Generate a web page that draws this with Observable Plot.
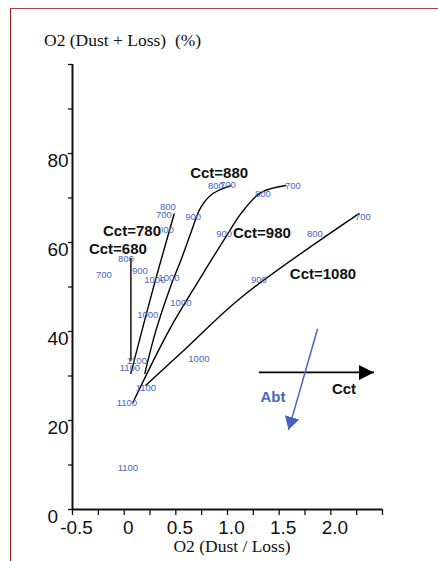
<!DOCTYPE html>
<html><head><meta charset="utf-8">
<script src="https://cdn.jsdelivr.net/npm/d3@7"></script>
<script src="https://cdn.jsdelivr.net/npm/@observablehq/plot@0.6"></script>
<style>
html,body{margin:0;padding:0;background:#fff;}
body{width:438px;height:561px;position:relative;overflow:hidden;font-family:"Liberation Sans",Arial,sans-serif;}
#frame{position:absolute;left:10px;top:8px;width:470px;height:600px;border-left:1.5px solid #a01c1c;border-top:1.5px solid #a64444;}
#chart{position:absolute;left:0;top:0;}
.ttl{position:absolute;font-family:"Liberation Serif","Times New Roman",serif;font-size:17.5px;line-height:20px;white-space:pre;color:#111;}
</style></head><body>
<div id="frame"></div>
<div id="chart"></div>
<div class="ttl" style="left:44px;top:30px">O2 (Dust + Loss)  (%)</div>
<div class="ttl" style="left:132px;width:200px;text-align:center;top:536px">O2 (Dust / Loss)</div>
<script>
// ---- data ----
const seriesNames = ["Cct=680", "Cct=780", "Cct=880", "Cct=980", "Cct=1080"];
const c680X = [0.065, 0.065];
const c680Y = [56.4, 33.5];
const c780X = [0.484, 0.275, 0.065];
const c780Y = [66.4, 49.2, 30.6];
const c880X = [1.033, 0.859, 0.742, 0.646, 0.549, 0.452, 0.307, 0.200];
const c880Y = [72.8, 71.0, 67.9, 62.2, 56.0, 50.3, 40.2, 30.6];
const c980X = [1.565, 1.323, 1.130, 1.004, 0.723, 0.433, 0.084];
const c980Y = [72.8, 71.2, 66.5, 62.0, 51.5, 40.2, 24.0];
const c1080X = [2.272, 1.130, 0.597, 0.210];
const c1080Y = [66.5, 47.6, 36.2, 27.9];

const cctLabelX = [-0.061, 0.076, 0.919, 1.333, 1.924];
const cctLabelY = [58.4, 62.5, 75.5, 62.2, 52.8];

const abtText = ["800","700","800","700","900","900","900","800","700","900","1000","1000","900","800","700","800","700","1000","1000","1100","1100","1000","1100","1100","1100"];
const abtX = [0.888,1.004,0.423,0.384,0.404,0.667,0.967,0.017,-0.197,0.152,0.297,0.433,1.304,1.342,1.633,1.846,2.311,0.229,0.549,0.123,0.055,0.723,0.210,0.026,0.036];
const abtY = [72.6,73.0,67.9,66.3,62.9,65.8,62.0,56.4,52.8,53.7,51.5,52.1,51.5,71.0,72.6,62.0,65.8,43.8,46.5,33.3,31.9,33.9,27.4,24.0,9.4];

const xTickVals = [-0.5,-0.25,0,0.25,0.5,0.75,1,1.25,1.5,1.75,2,2.25,2.5];
const xLabelVals = [-0.5, 0, 0.5, 1.0, 1.5, 2.0];
const xLabelText = ["-0.5", "0", "0.5", "1.0", "1.5", "2.0"];
const yTickVals = [0,10,20,30,40,50,60,70,80,90,100];
const yLabelVals = [0, 20, 40, 60, 80];

const arrowCct = {x1: 1.304, y1: 30.8, x2: 2.417, y2: 30.8, label: "Cct", lx: 2.127, ly: 27.0};
const arrowAbt = {x1: 1.872, y1: 40.6, x2: 1.591, y2: 17.9, label: "Abt", lx: 1.440, ly: 25.2};

// ---- build tables ----
const seriesX = [c680X, c780X, c880X, c980X, c1080X];
const seriesY = [c680Y, c780Y, c880Y, c980Y, c1080Y];
const pts = [];
seriesNames.forEach((s, i) => seriesX[i].forEach((x, j) => pts.push({s, x, y: seriesY[i][j]})));
const cctLabels = seriesNames.map((t, i) => ({t, x: cctLabelX[i], y: cctLabelY[i]}));
const abt = abtText.map((t, i) => ({t, x: abtX[i], y: abtY[i]}));

const blue = "#4467bd";

function triHead(len, half) {
  return (color) => {
    const ns = "http://www.w3.org/2000/svg";
    const m = document.createElementNS(ns, "marker");
    m.setAttribute("viewBox", `${-len} ${-half} ${len + 1} ${2 * half}`);
    m.setAttribute("markerWidth", len + 1);
    m.setAttribute("markerHeight", 2 * half);
    m.setAttribute("markerUnits", "userSpaceOnUse");
    m.setAttribute("orient", "auto");
    m.setAttribute("refX", 0);
    m.setAttribute("refY", 0);
    const p = document.createElementNS(ns, "path");
    p.setAttribute("d", `M0,0L${-len},${-half}L${-len},${half}Z`);
    p.setAttribute("fill", color);
    p.setAttribute("stroke", "none");
    m.appendChild(p);
    return m;
  };
}

const chart = Plot.plot({
  width: 438,
  height: 561,
  marginLeft: 72,
  marginRight: 56,
  marginTop: 64,
  marginBottom: 52,
  style: {fontFamily: "Liberation Sans, Arial, sans-serif", background: "transparent", color: "#111"},
  x: {domain: [-0.5, 2.5], axis: null},
  y: {domain: [0, 100], axis: null},
  marks: [
    Plot.axisX(xTickVals, {tickSize: 6, tickFormat: () => "", strokeWidth: 1.3}),
    Plot.axisX(xLabelVals, {tickSize: 0, tickPadding: 11, fontSize: 19, dx: 4, tickFormat: (d, i) => xLabelText[i]}),
    Plot.axisY(yTickVals, {tickSize: 4, tickFormat: () => "", strokeWidth: 1.3}),
    Plot.axisY(yLabelVals, {tickSize: 0, tickPadding: 1, fontSize: 19, dy: 7, dx: -24, textAnchor: "start", tickFormat: d => String(d)}),
    Plot.ruleY([0], {stroke: "#111", strokeWidth: 2}),
    Plot.ruleX([-0.5], {stroke: "#111", strokeWidth: 2}),
    Plot.line(pts, {x: "x", y: "y", z: "s", curve: "catmull-rom", stroke: "#000", strokeWidth: 1.4}),
    Plot.text(abt, {x: "x", y: "y", text: "t", fill: blue, fontSize: 9.5}),
    Plot.text(cctLabels, {x: "x", y: "y", text: "t", fontSize: 15, fontWeight: "bold", fill: "#111", stroke: "white", strokeWidth: 2}),
    Plot.link([arrowCct], {x1: "x1", y1: "y1", x2: "x2", y2: "y2", stroke: "#000", strokeWidth: 1.8, markerEnd: triHead(15, 7.5)}),
    Plot.link([arrowAbt], {x1: "x1", y1: "y1", x2: "x2", y2: "y2", stroke: blue, strokeWidth: 1.5, markerEnd: triHead(13, 7.5)}),
    Plot.text([arrowCct], {x: "lx", y: "ly", text: "label", fontSize: 15, fontWeight: "bold", fill: "#111"}),
    Plot.text([arrowAbt], {x: "lx", y: "ly", text: "label", fontSize: 15, fontWeight: "bold", fill: blue})
  ]
});
document.getElementById("chart").appendChild(chart);
</script>
</body></html>
